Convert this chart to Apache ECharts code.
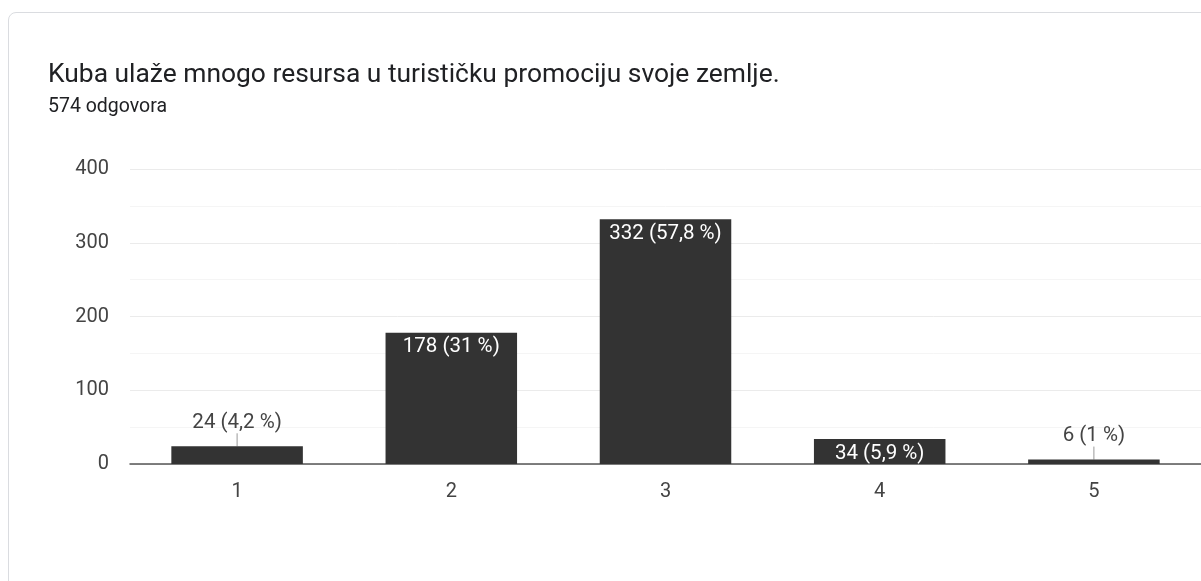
<!DOCTYPE html>
<html lang="hr">
<head>
<meta charset="UTF-8" />
<script src="https://cdn.jsdelivr.net/npm/echarts@6/dist/echarts.min.js"></script>
<style>
  html, body { margin: 0; padding: 0; background: #fff; overflow: hidden; }
  .card { position: absolute; left: 8px; top: 12px; width: 1300px; height: 700px;
    border: 1px solid #dadce0; border-radius: 8px; background: #fff; }
  #chart { position: absolute; left: 0; top: 0; width: 1201px; height: 581px; }
</style>
</head>
<body>
<div class="card"></div>
<div id="chart"></div>
<script>
// odgovori po ocjeni
const categories = ['1', '2', '3', '4', '5'];
const counts = [24, 178, 332, 34, 6];
const percents = ['4,2', '31', '57,8', '5,9', '1'];
const yTicks = [0, 100, 200, 300, 400];

const FONT = 'Roboto, "Noto Sans", Arial, sans-serif';

// mali stupci dobivaju oznaku iznad s crticom
const barData = counts.map((v, i) => {
  const small = v < 30;
  return {
    value: v,
    label: small
      ? { position: 'top', color: '#444', distance: 4 }
      : { position: 'insideTop', color: '#fff', distance: 4 },
    labelLine: { show: small }
  };
});

const chart = echarts.init(document.getElementById('chart'));
chart.setOption({
  animation: false,
  title: {
    text: 'Kuba ulaže mnogo resursa u turističku promociju svoje zemlje.',
    subtext: '574 odgovora',
    left: 43,
    top: 57,
    itemGap: 9,
    textStyle: { fontFamily: FONT, fontSize: 26.4, fontWeight: 'normal', color: '#202124' },
    subtextStyle: { fontFamily: FONT, fontSize: 19.5, color: '#202124' }
  },
  grid: { left: 130, right: -11.5, top: 169, bottom: 117 },
  xAxis: {
    type: 'category',
    data: categories,
    axisTick: { show: false },
    axisLine: { lineStyle: { color: '#555', width: 1.5 } },
    axisLabel: { fontFamily: FONT, fontSize: 20, color: '#444', margin: 18 }
  },
  yAxis: {
    type: 'value',
    min: yTicks[0],
    max: yTicks[yTicks.length - 1],
    interval: 100,
    axisLabel: { fontFamily: FONT, fontSize: 20, color: '#444', margin: 21 },
    splitLine: { lineStyle: { color: '#ebebeb' } },
    minorTick: { show: false, splitNumber: 2 },
    minorSplitLine: { show: true, lineStyle: { color: '#f5f5f5' } }
  },
  series: [{
    type: 'bar',
    data: barData,
    barCategoryGap: '38.6%',
    itemStyle: { color: '#333333' },
    label: {
      show: true,
      fontFamily: FONT,
      fontSize: 20.5,
      formatter: (p) => `${p.value} (${percents[p.dataIndex]} %)`
    },
    labelLayout: (p) => (counts[p.dataIndex] < 30 ? { dy: -9 } : {}),
    labelLine: { show: false, lineStyle: { color: '#999', width: 1 } }
  }]
});
</script>
</body>
</html>
